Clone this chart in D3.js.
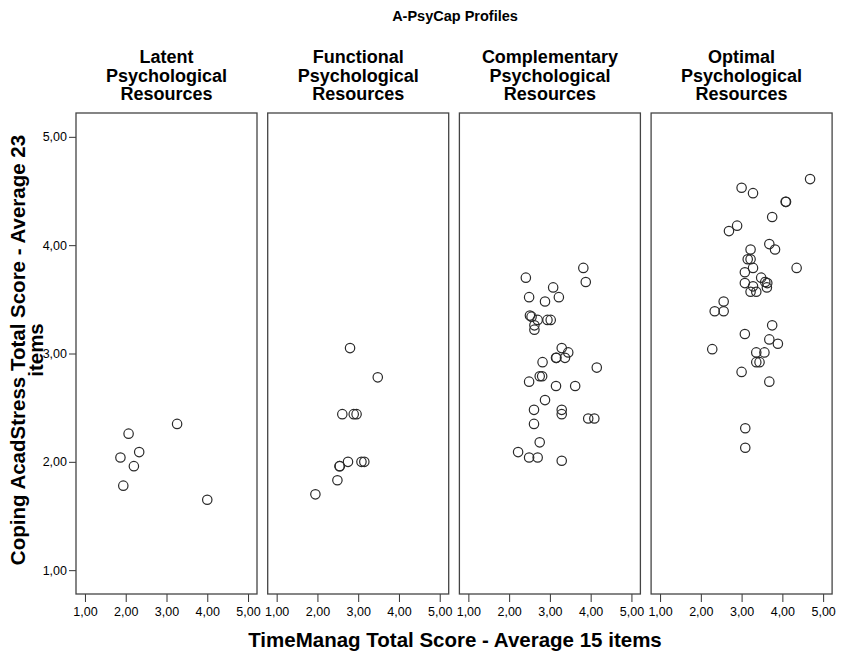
<!DOCTYPE html>
<html>
<head>
<meta charset="utf-8">
<script src="https://cdn.jsdelivr.net/npm/d3@7"></script>
<style>
  body { margin: 0; background: #fff; }
  text { font-family: "Liberation Sans", Arial, sans-serif; fill: #000; }
</style>
</head>
<body>
<svg id="chart" width="843" height="656"></svg>
<script>
var profiles = [
  ["Latent", "Psychological", "Resources"],
  ["Functional", "Psychological", "Resources"],
  ["Complementary", "Psychological", "Resources"],
  ["Optimal", "Psychological", "Resources"]
];

var xTicks = [1, 2, 3, 4, 5];
var yTicks = [1, 2, 3, 4, 5];

// [TimeManag, Coping] per profile
var latent = [[2.07,2.26],[3.26,2.35],[2.33,2.09],[1.87,2.04],[2.20,1.96],[1.94,1.78],[4.00,1.65]];

var functional = [[2.80,3.05],[3.48,2.78],[2.61,2.44],[2.89,2.44],[2.96,2.44],[2.75,2.00],[3.08,2.00],
  [3.15,2.00],[2.54,1.96],[2.55,1.96],[2.49,1.83],[1.95,1.70]];

var complementary = [[3.82,3.79],[2.41,3.70],[3.88,3.66],[3.08,3.61],[2.49,3.52],[3.22,3.52],[2.88,3.48],
  [2.51,3.35],[2.55,3.34],[2.70,3.31],[2.94,3.31],[3.02,3.31],[2.62,3.26],[2.62,3.22],[3.29,3.05],
  [3.45,3.01],[3.15,2.96],[3.16,2.96],[3.37,2.96],[2.82,2.92],[4.15,2.87],[2.75,2.79],[2.81,2.79],
  [2.49,2.74],[3.15,2.70],[3.62,2.70],[2.88,2.57],[2.61,2.48],[3.29,2.48],[3.29,2.44],[3.94,2.40],
  [4.09,2.40],[2.61,2.35],[2.75,2.18],[2.22,2.09],[2.49,2.04],[2.70,2.04],[3.29,2.01]];

var optimal = [[4.68,4.61],[3.00,4.53],[3.28,4.48],[4.08,4.40],[4.09,4.40],[3.75,4.26],[2.89,4.18],
  [2.69,4.13],[3.68,4.01],[3.82,3.96],[3.22,3.96],[3.15,3.87],[3.22,3.87],[3.28,3.79],[4.35,3.79],
  [3.08,3.75],[3.48,3.70],[3.58,3.66],[3.63,3.65],[3.08,3.65],[3.28,3.62],[3.62,3.61],[3.22,3.57],
  [3.36,3.57],[2.56,3.48],[2.34,3.39],[2.56,3.39],[3.75,3.26],[3.08,3.18],[3.68,3.13],[3.89,3.09],
  [2.28,3.04],[3.36,3.01],[3.56,3.01],[3.36,2.92],[3.44,2.92],[3.00,2.83],[3.68,2.74],[3.09,2.31],
  [3.09,2.13]];

var series = [latent, functional, complementary, optimal];

var svg = d3.select("#chart");
var fmt = function(d) { return d3.format(".2f")(d).replace(".", ","); };

var plotTop = 113, plotBottom = 594, left0 = 76, pw = 181, gap = 10.7;

var y = d3.scaleLinear().domain([0.78, 5.22]).range([plotBottom, plotTop]);

svg.append("text")
  .attr("x", 455).attr("y", 21)
  .attr("text-anchor", "middle")
  .style("font-size", "14.5px").style("font-weight", "bold")
  .text("A-PsyCap Profiles");

// y axis
var yAxis = svg.append("g")
  .attr("transform", "translate(" + left0 + ",0)")
  .call(d3.axisLeft(y).tickValues(yTicks).tickFormat(fmt).tickSize(7).tickPadding(2));
yAxis.select(".domain").remove();
yAxis.selectAll(".tick line").attr("stroke", "#333");
yAxis.selectAll(".tick text").style("font-size", "12.5px").style("font-family", "Liberation Sans, Arial, sans-serif").attr("fill", "#000");

series.forEach(function(data, i) {
  var x0 = left0 + i * (pw + gap);
  var x = d3.scaleLinear().domain([0.78, 5.22]).range([x0, x0 + pw]);

  var xAxis = svg.append("g")
    .attr("transform", "translate(0," + plotBottom + ")")
    .call(d3.axisBottom(x).tickValues(xTicks).tickFormat(fmt).tickSize(8).tickPadding(5));
  xAxis.select(".domain").remove();
  xAxis.selectAll(".tick line").attr("stroke", "#333");
  xAxis.selectAll(".tick text").style("font-size", "12.5px").style("font-family", "Liberation Sans, Arial, sans-serif").attr("fill", "#000");

  svg.append("rect")
    .attr("x", x0).attr("y", plotTop)
    .attr("width", pw).attr("height", plotBottom - plotTop)
    .attr("fill", "none").attr("stroke", "#444").attr("stroke-width", 1.3);

  svg.append("g").selectAll("circle").data(data).enter()
    .append("circle")
    .attr("cx", function(d) { return x(d[0]); })
    .attr("cy", function(d) { return y(d[1]); })
    .attr("r", 4.7)
    .attr("fill", "none")
    .attr("stroke", "#2a2a2a")
    .attr("stroke-width", 1.2);

  svg.append("text")
    .attr("x", x0 + pw / 2).attr("y", 63)
    .attr("text-anchor", "middle")
    .style("font-size", "18px").style("font-weight", "bold")
    .selectAll("tspan").data(profiles[i]).enter()
    .append("tspan")
    .attr("x", x0 + pw / 2)
    .attr("dy", function(d, j) { return j ? 18.5 : 0; })
    .text(function(d) { return d; });
});

svg.append("text")
  .attr("x", 455).attr("y", 647)
  .attr("text-anchor", "middle")
  .style("font-size", "20.5px").style("font-weight", "bold")
  .text("TimeManag Total Score - Average 15 items");

var yt = svg.append("text")
  .attr("transform", "translate(25,350) rotate(-90)")
  .attr("text-anchor", "middle")
  .style("font-size", "20.5px").style("font-weight", "bold");
yt.append("tspan").attr("x", 0).attr("dy", 0).text("Coping AcadStress Total Score - Average 23");
yt.append("tspan").attr("x", 0).attr("dy", 18).text("items");
</script>
</body>
</html>
